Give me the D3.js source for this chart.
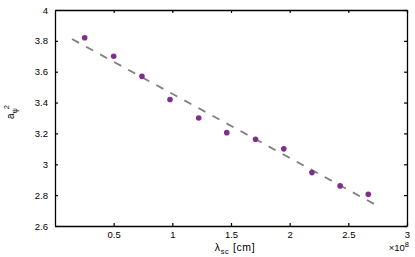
<!DOCTYPE html>
<html>
<head>
<meta charset="utf-8">
<script src="https://cdn.jsdelivr.net/npm/d3@7"></script>
<style>
  body { margin: 0; background: #fff; }
  text { font-family: "Liberation Sans", Arial, sans-serif; }
</style>
</head>
<body>
<div></div>
<script>
var width = 415;
var height = 257;
var margin = { top: 10, right: 8, bottom: 31, left: 55 };

// data (x in units of 1e8 cm)
var lambdaSc = [0.253, 0.5, 0.741, 0.98, 1.225, 1.464, 1.709, 1.95, 2.19, 2.43, 2.67];
var aPsi2 = [3.82, 3.70, 3.57, 3.42, 3.30, 3.205, 3.162, 3.10, 2.946, 2.86, 2.806];
var fitX = [0.145, 2.75];
var fitY = [3.812, 2.73];
var xTicks = [0.5, 1, 1.5, 2, 2.5, 3];
var yTicks = [2.6, 2.8, 3, 3.2, 3.4, 3.6, 3.8, 4];

var svg = d3.select("div")
  .append("svg")
  .attr("width", width)
  .attr("height", height);

var x = d3.scaleLinear()
  .domain([0, 3])
  .range([margin.left, width - margin.right]);

var y = d3.scaleLinear()
  .domain([2.6, 4])
  .range([height - margin.bottom, margin.top]);

var fmt = (d) => String(d);

// axes: box with inward ticks
svg.append("g")
  .attr("transform", `translate(0,${height - margin.bottom})`)
  .call(d3.axisBottom(x).tickValues(xTicks).tickSizeInner(-3).tickSizeOuter(0).tickPadding(5).tickFormat(fmt));

svg.append("g")
  .attr("transform", `translate(0,${margin.top})`)
  .call(d3.axisTop(x).tickValues(xTicks).tickSizeInner(-3).tickSizeOuter(0).tickFormat(""));

svg.append("g")
  .attr("transform", `translate(${margin.left},0)`)
  .call(d3.axisLeft(y).tickValues(yTicks).tickSizeInner(-3).tickSizeOuter(0).tickPadding(7).tickFormat(fmt));

svg.append("g")
  .attr("transform", `translate(${width - margin.right},0)`)
  .call(d3.axisRight(y).tickValues(yTicks).tickSizeInner(-3).tickSizeOuter(0).tickFormat(""));

svg.selectAll(".domain").attr("stroke", "#000").attr("stroke-width", 1.3);
svg.selectAll(".tick line").attr("stroke", "#000").attr("stroke-width", 1.2);
svg.selectAll(".tick text")
  .attr("font-size", 9.5)
  .attr("font-family", "Liberation Sans, Arial, sans-serif")
  .attr("fill", "#000");

// fit line
var line = d3.line().x((d) => x(d[0])).y((d) => y(d[1]));
svg.append("path")
  .datum(d3.zip(fitX, fitY))
  .attr("d", line)
  .attr("fill", "none")
  .attr("stroke", "#808080")
  .attr("stroke-width", 1.8)
  .attr("stroke-dasharray", "8,8");

// points
svg.append("g")
  .selectAll("circle")
  .data(d3.zip(lambdaSc, aPsi2))
  .join("circle")
  .attr("cx", (d) => x(d[0]))
  .attr("cy", (d) => y(d[1]))
  .attr("r", 2.8)
  .attr("fill", "#7e2f8e");

// x label
var xl = svg.append("text")
  .attr("x", 235)
  .attr("y", 250.5)
  .attr("text-anchor", "middle")
  .attr("letter-spacing", 0.6)
  .attr("font-size", 10.5);
xl.append("tspan").text("λ");
xl.append("tspan").attr("font-size", 7.5).attr("dy", 3).text("sc");
xl.append("tspan").attr("dy", -3).text(" [cm]");

// exponent
var ex = svg.append("text")
  .attr("x", 409)
  .attr("y", 251)
  .attr("text-anchor", "end")
  .attr("font-size", 9.5);
ex.append("tspan").text("×10");
ex.append("tspan").attr("font-size", 7.5).attr("dy", -4).text("8");

// y label
var yl = svg.append("text")
  .attr("transform", "translate(14,112) rotate(-90)")
  .attr("text-anchor", "middle")
  .attr("font-size", 10);
yl.append("tspan").text("a");
yl.append("tspan").attr("font-size", 7.5).attr("dy", 3).text("ψ");
yl.append("tspan").attr("font-size", 7.5).attr("dy", -8).attr("dx", -1).text("2");
</script>
</body>
</html>
